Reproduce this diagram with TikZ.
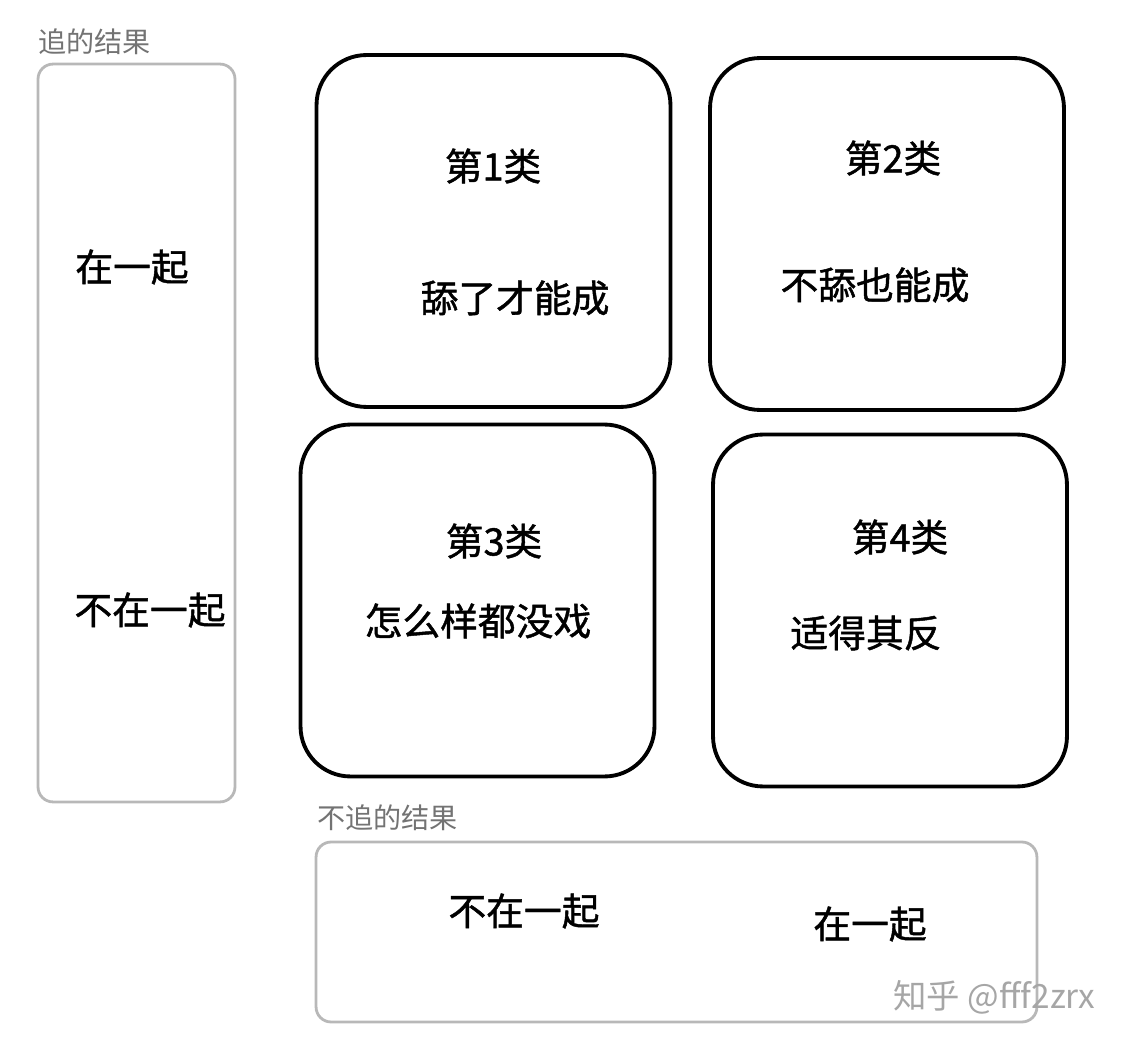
\documentclass[tikz,border=0pt]{standalone}
\usepackage{fontspec}
\newfontfamily\cjk{Noto Sans CJK SC}
\newfontfamily\cjkb[FakeBold=1.2]{Noto Sans CJK SC}
\tikzset{
  quad/.style={draw=black,line width=2.2pt,rounded corners=1cm,inner sep=0pt,outer sep=0pt,
    minimum width=7.08cm,minimum height=7.04cm},
  frame/.style={draw=black!28,line width=1.6pt,rounded corners=.3cm,inner sep=0pt,outer sep=0pt},
  tag/.style={font=\cjk\fontsize{16}{16}\selectfont,text=black!55,inner sep=0pt},
  word/.style={font=\cjkb\fontsize{21.5}{22}\selectfont,inner sep=0pt},
}
\begin{document}
\begin{tikzpicture}[x=0.02cm,y=-0.02cm]
    \useasboundingbox (0,0) rectangle (1130,1044);
    % frames for the outcomes
    \node[tag,anchor=west] (chaseTag) at (38,42) {追的结果};
    \node[frame,minimum width=3.94cm,minimum height=14.76cm] (chase) at (136.5,433) {};
    \node[word] (chaseYes) at (132,267) {在一起};
    \node[word] (chaseNo) at (150,610) {不在一起};
    \node[tag,anchor=west] (idleTag) at (317,818) {不追的结果};
    \node[frame,minimum width=14.42cm,minimum height=3.6cm] (idle) at (676.5,932) {};
    \node[word] (idleNo) at (524,911) {不在一起};
    \node[word] (idleYes) at (870,924) {在一起};
    % four classes
    \node[quad] (one) at (493.5,231) {};
    \node[word] (oneName) at (493,166) {第1类};
    \node[word] (oneText) at (515,298) {舔了才能成};
    \node[quad] (two) at (887,234) {};
    \node[word] (twoName) at (893,158) {第2类};
    \node[word] (twoText) at (875,285) {不舔也能成};
    \node[quad] (three) at (477.5,600.5) {};
    \node[word] (threeName) at (494,541) {第3类};
    \node[word] (threeText) at (478,621) {怎么样都没戏};
    \node[quad] (four) at (890,610.5) {};
    \node[word] (fourName) at (900,537) {第4类};
    \node[word] (fourText) at (866,633) {适得其反};
    % watermark
    \node[font=\cjk\fontsize{19}{19}\selectfont,text=black!35,inner sep=0pt,anchor=west] (mark) at (893,997) {知乎 @fff2zrx};
\end{tikzpicture}
\end{document}
